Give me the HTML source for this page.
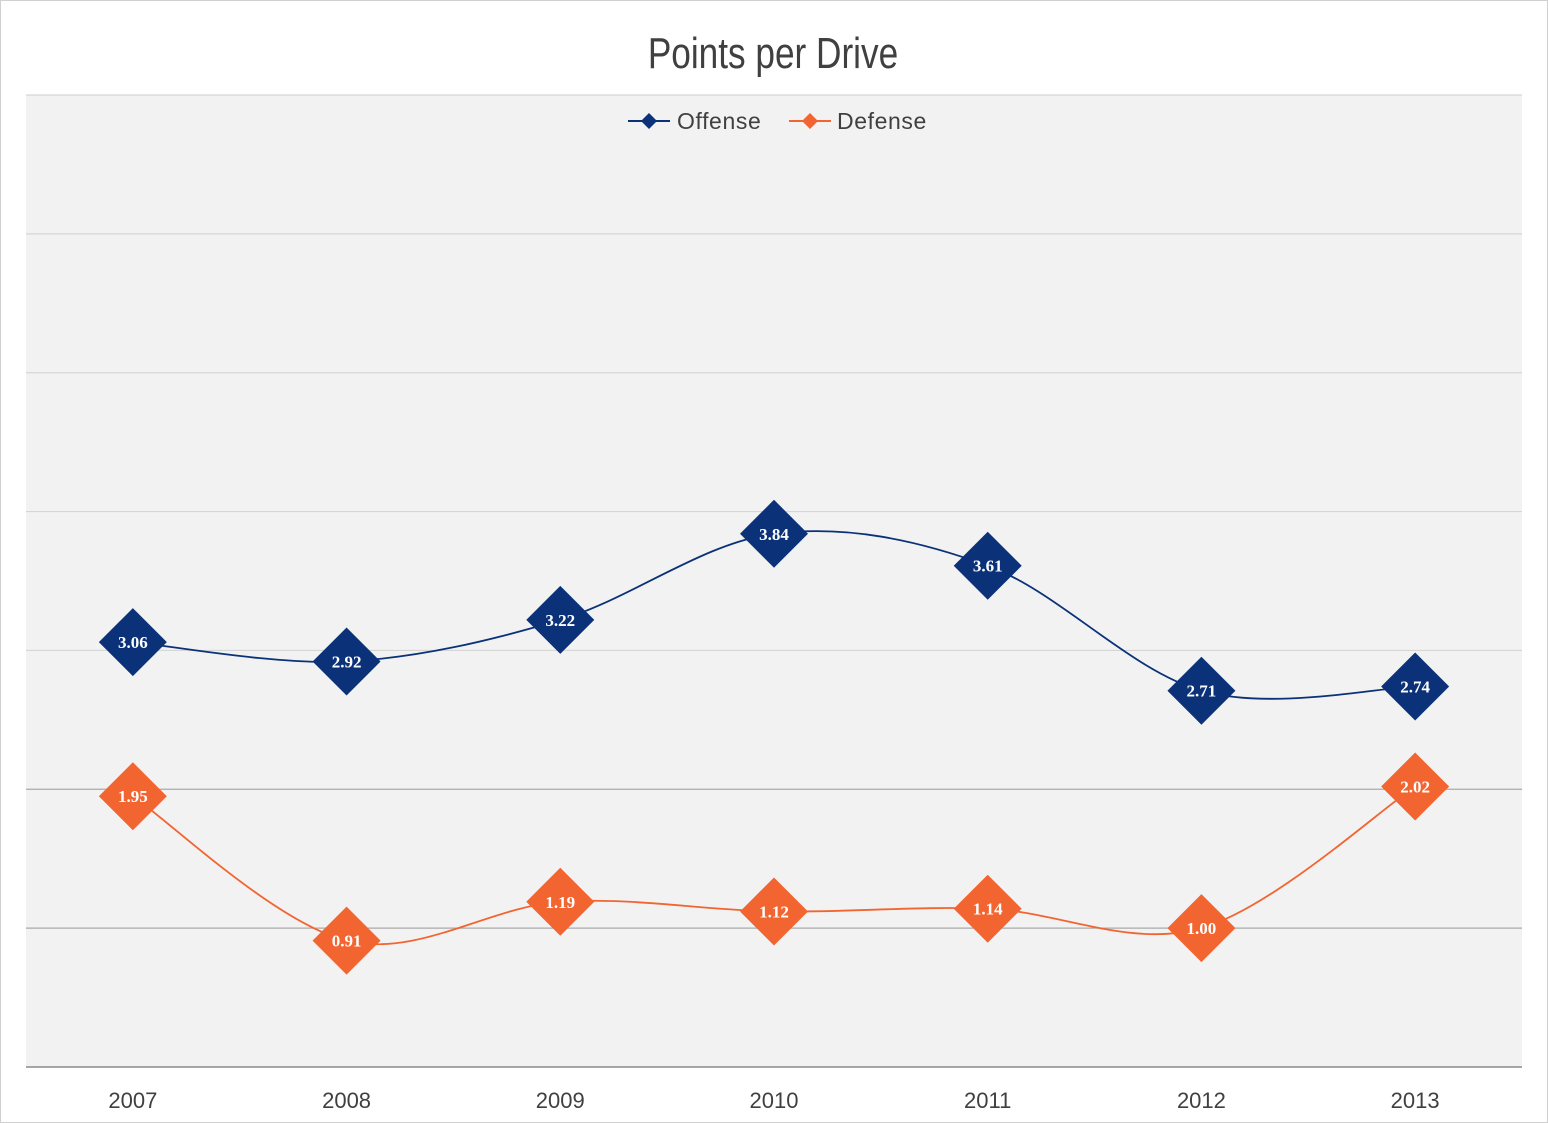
<!DOCTYPE html>
<html><head><meta charset="utf-8"><style>
html,body{margin:0;padding:0;background:#fff;}
svg{display:block;font-family:"Liberation Sans",sans-serif;}
</style></head><body>
<svg width="1548" height="1123" viewBox="0 0 1548 1123">
<rect x="0.5" y="0.5" width="1547" height="1122" fill="#fff" stroke="#d0d0d0"/>
<rect x="26" y="95" width="1496" height="972" fill="#f2f2f2"/>
<g id="grid"></g>
<text x="773" y="68" text-anchor="middle" font-size="44" fill="#404040" transform="translate(773 0) scale(0.8 1) translate(-773 0)">Points per Drive</text>
<g>
 <g>
  <line x1="628" y1="121" x2="670" y2="121" stroke="#0b3278" stroke-width="2"/>
  <path d="M649 113 L657 121 L649 129 L641 121Z" fill="#0b3278"/>
  <text x="677" y="129" font-size="23" letter-spacing="0.6" fill="#404040">Offense</text>
 </g>
 <g>
  <line x1="789" y1="121" x2="831" y2="121" stroke="#f26531" stroke-width="2"/>
  <path d="M810 113 L818 121 L810 129 L802 121Z" fill="#f26531"/>
  <text x="837" y="129" font-size="23" letter-spacing="0.6" fill="#404040">Defense</text>
 </g>
</g>
<g id="xaxis"></g>
<g id="series"></g>
</svg>
<script>
const categories=["2007","2008","2009","2010","2011","2012","2013"];
const offense=[3.06,2.92,3.22,3.84,3.61,2.71,2.74];
const defense=[1.95,0.91,1.19,1.12,1.14,1.00,2.02];
const yTicks=[0,1,2,3,4,5,6,7];
const NS="http://www.w3.org/2000/svg";
const L=26,R=1522,T=95,B=1067,yMax=7;
const bw=(R-L)/categories.length;
const xs=i=>L+bw*(i+0.5);
const ys=v=>B-(v/yMax)*(B-T);
function mk(tag,attrs,parent){const e=document.createElementNS(NS,tag);for(const k in attrs)e.setAttribute(k,attrs[k]);parent.appendChild(e);return e;}
const grid=document.getElementById('grid');
yTicks.forEach(t=>{
 const y=ys(t);
 const l=mk('line',{x1:L,x2:R,y1:y,y2:y,stroke:t===0?'#8a8a8a':(t<=2?'#aaaaaa':'#d6d6d6'),'stroke-width':t===0?1.5:1.2},grid);
 
 
});
const xa=document.getElementById('xaxis');
categories.forEach((c,i)=>{
 const t=mk('text',{x:xs(i),y:1108,'text-anchor':'middle','font-size':22,fill:'#404040'},xa);
 t.textContent=c;
 
 
});
function smooth(pts){
 let d=`M${pts[0][0]},${pts[0][1]}`;
 for(let i=0;i<pts.length-1;i++){
  const p0=pts[i-1]||pts[i],p1=pts[i],p2=pts[i+1],p3=pts[i+2]||p2;
  const k=1/6;
  d+=` C${p1[0]+(p2[0]-p0[0])*k},${p1[1]+(p2[1]-p0[1])*k} ${p2[0]-(p3[0]-p1[0])*k},${p2[1]-(p3[1]-p1[1])*k} ${p2[0]},${p2[1]}`;
 }
 return d;
}
const sg=document.getElementById('series');
function draw(vals,color,name){
 const g=mk('g',{},sg);
 
 
 const pts=vals.map((v,i)=>[xs(i),ys(v)]);
 const p=mk('path',{d:smooth(pts),fill:'none',stroke:color,'stroke-width':1.8},g);
 
 
 vals.forEach((v,i)=>{
  const x=xs(i),y=ys(v),h=34;
  const m=mk('path',{d:`M${x} ${y-h} L${x+h} ${y} L${x} ${y+h} L${x-h} ${y}Z`,fill:color},g);
  
  
  const t=mk('text',{x:x,y:y+6,'text-anchor':'middle','font-size':17,'font-weight':'bold',fill:'#fff','font-family':'"Liberation Serif",serif'},g);
  t.textContent=v.toFixed(2);
  
  
 });
}
draw(offense,'#0b3278','offense');
draw(defense,'#f26531','defense');
</script>
</body></html>
